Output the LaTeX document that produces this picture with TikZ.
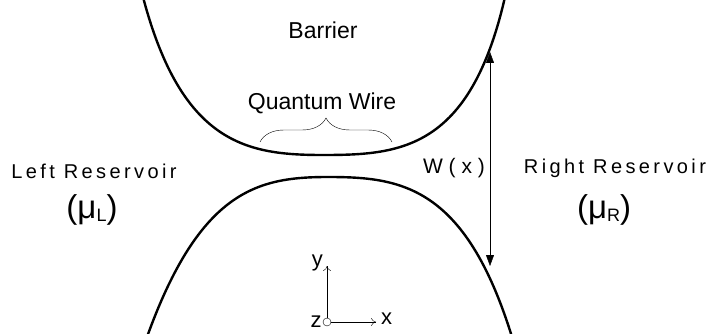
\documentclass[tikz,border=0pt]{standalone}
\usepackage{fontspec}
\setmainfont{Liberation Sans}
\usetikzlibrary{arrows.meta, positioning, decorations.pathreplacing}

\begin{document}
\begin{tikzpicture}[
    x=1pt, y=-1pt,
    node distance=2pt,
    wall/.style={line width=2.4pt},
    reslabel/.style={font=\fontsize{20}{20}\selectfont\addfontfeature{LetterSpace=17}, anchor=base, inner sep=0pt},
    chempot/.style={font=\fontsize{33}{33}\selectfont, anchor=base, inner sep=0pt},
    title/.style={font=\fontsize{23}{23}\selectfont, anchor=base, inner sep=0pt},
    axislabel/.style={font=\fontsize{22}{22}\selectfont, inner sep=1pt}
]
\useasboundingbox (0,0) rectangle (709,334);

% Barrier walls
\draw[wall] (143,-3) .. controls (182,145) and (248,155) .. (323,155)
    .. controls (400,155) and (470,150) .. (505,-3);
\draw[wall] (147,337) .. controls (200,190) and (258,177) .. (328,177)
    .. controls (400,177) and (465,185) .. (512,337);

% Nodes
\node[title] (barrier) at (323,39) {Barrier};
\node[title] (qwire) at (322,110) {Quantum Wire};
\node[reslabel] (left) at (94,178) {Left Reservoir};
\node[chempot] (muL) at (92,218) {(μ\raisebox{-3pt}{\fontsize{18}{18}\selectfont L})};
\node[reslabel] (right) at (615,173) {Right Reservoir};
\node[chempot] (muR) at (604,218) {(μ\raisebox{-3pt}{\fontsize{18}{18}\selectfont R})};
\node[reslabel, font=\fontsize{21}{21}\selectfont\addfontfeature{LetterSpace=28}] (width) at (454,173) {W(x)};

\coordinate (bl) at (260,142);
\coordinate (br) at (392,142);
\coordinate (wtop) at (490,52);
\coordinate (wbot) at (490,266);

\node[draw, circle, minimum size=8pt, inner sep=0pt] (zdot) at (327,322) {};
\coordinate (ytip) at (327,266);
\coordinate (xtip) at (376,322);
\node[axislabel, left=0pt of zdot] (zlab) {z};
\node[axislabel, anchor=south east] (ylab) at ([xshift=-3pt,yshift=-6pt]ytip) {y};
\node[axislabel, right=4pt of xtip, yshift=3pt] (xlab) {x};

% Paths
\draw[decorate, decoration={brace, amplitude=24pt}, thin] (bl) -- (br);
\draw[{Triangle[length=11pt, width=8pt]}-{Triangle[length=11pt, width=8pt]}, thin] (wtop) -- (wbot);
\draw[-{To[length=5pt, width=8pt]}, thin] (zdot.north) -- (ytip);
\draw[-{To[length=5pt, width=8pt]}, thin] (zdot.east) -- (xtip);
\end{tikzpicture}
\end{document}
